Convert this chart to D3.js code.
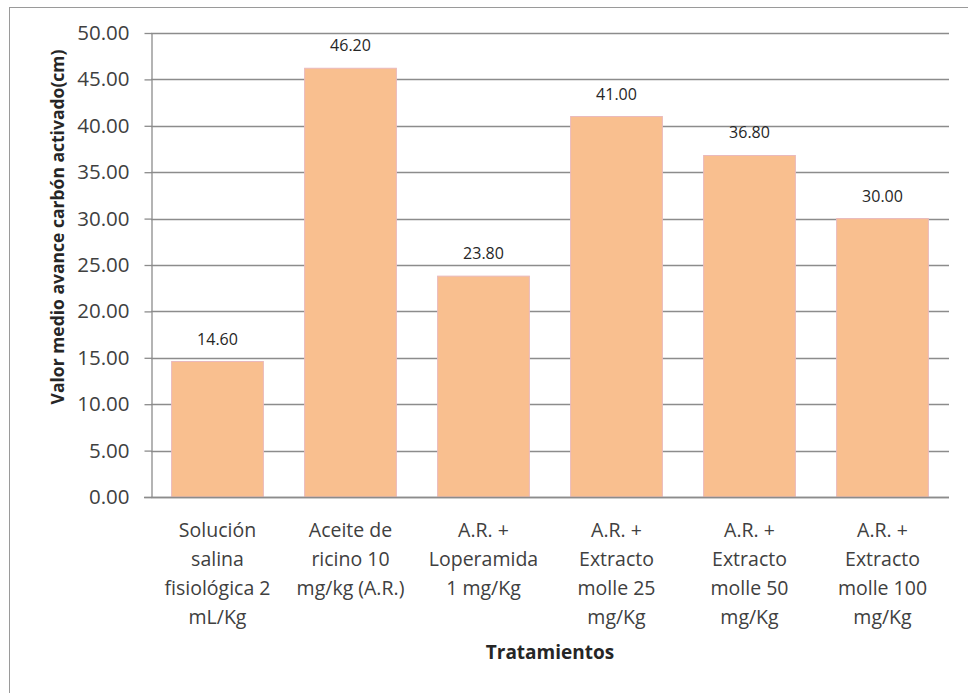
<!DOCTYPE html>
<html>
<head>
<meta charset="utf-8">
<script src="https://cdn.jsdelivr.net/npm/d3@7"></script>
<style>
  body { margin: 0; background: #fff; }
  svg { display: block; }
</style>
</head>
<body>
<div id="chart"></div>
<script>
// treatments (one row per label line) and mean values
const categories = [
    ['Solución', 'salina', 'fisiológica 2', 'mL/Kg'],
    ['Aceite de', 'ricino 10', 'mg/kg (A.R.)'],
    ['A.R. +', 'Loperamida', '1 mg/Kg'],
    ['A.R. +', 'Extracto', 'molle 25', 'mg/Kg'],
    ['A.R. +', 'Extracto', 'molle 50', 'mg/Kg'],
    ['A.R. +', 'Extracto', 'molle 100', 'mg/Kg']
];
const values = [14.6, 46.2, 23.8, 41.0, 36.8, 30.0];
const yTicks = [0, 5, 10, 15, 20, 25, 30, 35, 40, 45, 50];

const width = 968;
const height = 693;
const margin = { top: 33, right: 19, bottom: 196, left: 151 };
const font = '"Open Sans", Lato, sans-serif';

const svg = d3.select('#chart').append('svg')
    .attr('width', width)
    .attr('height', height);

// outer chart border (only top and left visible in the crop)
svg.append('rect')
    .attr('x', 9.5)
    .attr('y', 7.5)
    .attr('width', width + 20)
    .attr('height', height + 20)
    .attr('fill', '#fff')
    .attr('stroke', '#9a9a9a')
    .attr('stroke-width', 1);

const x = d3.scaleBand()
    .domain(d3.range(categories.length))
    .range([margin.left, width - margin.right])
    .paddingInner(0.31)
    .paddingOuter(0.155);

const y = d3.scaleLinear()
    .domain([0, 50])
    .range([height - margin.bottom, margin.top]);

// gridlines
svg.append('g')
    .selectAll('line')
    .data(yTicks)
    .enter().append('line')
    .attr('x1', margin.left)
    .attr('x2', width - margin.right)
    .attr('y1', d => Math.round(y(d)) + 0.5)
    .attr('y2', d => Math.round(y(d)) + 0.5)
    .attr('stroke', '#8c8c8c')
    .attr('stroke-width', 1.3);

// bars
svg.append('g')
    .selectAll('rect')
    .data(values)
    .enter().append('rect')
    .attr('x', (d, i) => x(i))
    .attr('y', d => y(d))
    .attr('width', x.bandwidth())
    .attr('height', d => y(0) - y(d))
    .attr('fill', '#f9bf8f')
    .attr('stroke', '#eab9bc')
    .attr('stroke-width', 1);

// value labels
svg.append('g')
    .selectAll('text')
    .data(values)
    .enter().append('text')
    .attr('x', (d, i) => x(i) + x.bandwidth() / 2)
    .attr('y', d => y(d) - 17)
    .attr('text-anchor', 'middle')
    .attr('font-family', font)
    .attr('font-size', 16)
    .attr('fill', '#262626')
    .text(d => d.toFixed(2));

// y axis
const yAxis = svg.append('g')
    .attr('transform', `translate(${margin.left + 0.5},0)`)
    .call(d3.axisLeft(y).tickValues(yTicks).tickFormat(d3.format('.2f')).tickSize(7).tickSizeOuter(0));
yAxis.select('.domain').attr('stroke', '#8c8c8c').attr('stroke-width', 1.3);
yAxis.selectAll('.tick line').attr('stroke', '#8c8c8c').attr('stroke-width', 1.3);
yAxis.selectAll('.tick text')
    .attr('x', -22)
    .attr('font-family', font)
    .attr('font-size', 20.5)
    .attr('fill', '#404040');

// x axis line
svg.append('line')
    .attr('x1', margin.left - 7)
    .attr('x2', width - margin.right)
    .attr('y1', Math.round(y(0)) + 0.5)
    .attr('y2', Math.round(y(0)) + 0.5)
    .attr('stroke', '#8c8c8c')
    .attr('stroke-width', 1.3);

// category labels
const catLabels = svg.append('g')
    .selectAll('text')
    .data(categories)
    .enter().append('text')
    .attr('x', (d, i) => x(i) + x.bandwidth() / 2)
    .attr('y', y(0) + 40)
    .attr('text-anchor', 'middle')
    .attr('font-family', font)
    .attr('font-size', 19.5)
    .attr('fill', '#404040');
catLabels.selectAll('tspan')
    .data(d => d)
    .enter().append('tspan')
    .attr('x', function() { return d3.select(this.parentNode).attr('x'); })
    .attr('dy', (d, i) => i === 0 ? 0 : 29)
    .text(d => d);

// axis titles
svg.append('text')
    .attr('x', (margin.left + width - margin.right) / 2)
    .attr('y', 659)
    .attr('text-anchor', 'middle')
    .attr('font-family', font)
    .attr('font-size', 19)
    .attr('font-weight', 'bold')
    .attr('fill', '#262626')
    .text('Tratamientos');

svg.append('text')
    .attr('transform', 'translate(64,227) rotate(-90)')
    .attr('text-anchor', 'middle')
    .attr('font-family', font)
    .attr('font-size', 17.5)
    .attr('font-weight', 'bold')
    .attr('fill', '#262626')
    .text('Valor medio avance carbón activado(cm)');
</script>
</body>
</html>
